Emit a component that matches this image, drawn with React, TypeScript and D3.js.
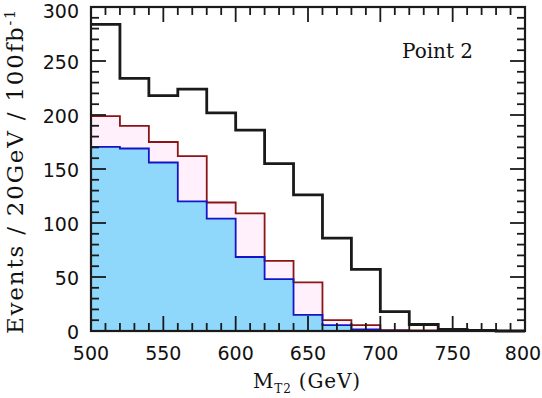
import React from 'react';
import * as d3 from 'd3';

// bin lower edges (GeV), 20 GeV bins
const binLo = [500, 520, 540, 560, 580, 600, 620, 640, 660, 680, 700, 720, 740, 760, 780];
const total = [284, 234, 218, 224, 202, 186, 155, 126, 86, 57, 18, 6, 1.5, 0.5, 0];
const susy = [199, 190, 175, 162, 119, 109, 65, 45, 10, 5.5, 0.8, 0.6, 0.4, 0, 0];
const signal = [170.5, 169, 156, 120, 104, 68.5, 48, 15, 5.5, 1.5, 0.4, 0.2, 0, 0, 0];
const xTicks = [500, 550, 600, 650, 700, 750, 800];
const yTicks = [0, 50, 100, 150, 200, 250, 300];

const W = 542;
const H = 398;
const m = { left: 91, right: 17, top: 7, bottom: 67 };

const App = () => {
  const x = d3.scaleLinear().domain([500, 800]).range([m.left, W - m.right]);
  const y = d3.scaleLinear().domain([0, 300]).range([H - m.bottom, m.top]);

  const steps = (vals: number[]) => {
    const pts: [number, number][] = binLo.map((b, i) => [b, vals[i]]);
    pts.push([800, vals[vals.length - 1]]);
    return pts;
  };

  const line = d3.line<[number, number]>()
    .x(d => x(d[0]))
    .y(d => y(d[1]))
    .curve(d3.curveStepAfter);
  const area = d3.area<[number, number]>()
    .x(d => x(d[0]))
    .y0(y(0))
    .y1(d => y(d[1]))
    .curve(d3.curveStepAfter);

  const xMinor = d3.range(500, 801, 10);
  const yMinor = d3.range(0, 301, 10);
  const x0 = x(500), x1 = x(800), y0 = y(0), y1 = y(300);

  return (
    <svg width={W} height={H} style={{ position: 'absolute', left: 0, top: 0, background: '#fff' }}>
      <path d={area(steps(susy)) || ''} fill="#fff0fb" />
      <path d={area(steps(signal)) || ''} fill="#8fd8fb" />
      <path d={line(steps(susy)) || ''} fill="none" stroke="#8b1515" strokeWidth={1.8} />
      <path d={line(steps(signal)) || ''} fill="none" stroke="#1515c8" strokeWidth={1.8} />
      <path d={line(steps(total)) || ''} fill="none" stroke="#1a1a1a" strokeWidth={2.8} />

      <g stroke="#1a1a1a" strokeWidth={1.8}>
        {xMinor.map(v => {
          const len = v % 50 === 0 ? 15 : 8;
          return (
            <g key={'x' + v}>
              <line x1={x(v)} x2={x(v)} y1={y0} y2={y0 - len} />
              <line x1={x(v)} x2={x(v)} y1={y1} y2={y1 + len} />
            </g>
          );
        })}
        {yMinor.map(v => {
          const len = v % 50 === 0 ? 15 : 8;
          return (
            <g key={'y' + v}>
              <line x1={x0} x2={x0 + len} y1={y(v)} y2={y(v)} />
              <line x1={x1} x2={x1 - len} y1={y(v)} y2={y(v)} />
            </g>
          );
        })}
      </g>
      <rect x={x0} y={y1} width={x1 - x0} height={y0 - y1} fill="none" stroke="#1a1a1a" strokeWidth={2.2} />

      <g fontFamily="'DejaVu Sans', sans-serif" fontSize={19} fill="#111">
        {xTicks.map(v => (
          <text key={v} x={Math.min(x(v), W - 19)} y={360} textAnchor="middle">{v}</text>
        ))}
        {yTicks.map(v => (
          <text key={v} x={x0 - 12} y={Math.max(y(v) + 8, 18)} textAnchor="end">{v}</text>
        ))}
      </g>

      <g fontFamily="'DejaVu Serif', serif" fill="#111">
        <text x={402} y={58} fontSize={20}>Point 2</text>
        <text x={253} y={388} fontSize={20} textLength={107} lengthAdjust="spacing">
          M<tspan fontSize={12} dy={5}>T2</tspan><tspan dy={-5}>{'\u00a0(GeV)'}</tspan>
        </text>
        <text transform={`translate(23, 334) rotate(-90)`} fontSize={23} textLength={324} lengthAdjust="spacing">
          {'Events\u00a0/\u00a020GeV\u00a0/\u00a0100fb'}<tspan fontSize={14} dy={-8}>-1</tspan>
        </text>
      </g>
    </svg>
  );
};

export default App;
